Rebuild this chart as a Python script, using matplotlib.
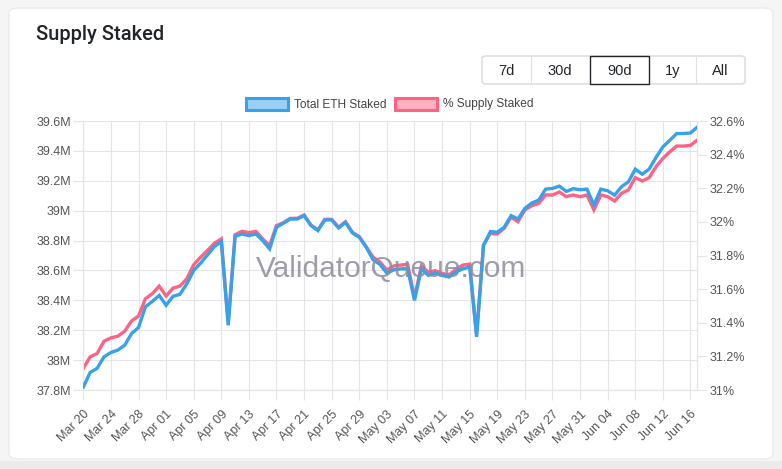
import numpy as np
import pandas as pd
import matplotlib
matplotlib.use('Agg')
from matplotlib import pyplot as plt
from matplotlib.patches import FancyBboxPatch, Rectangle

# data (daily, Mar 20 - Jun 17)
dates = pd.date_range('2024-03-20', periods=90, freq='D')
eth_staked_m = [
    37.82, 37.918, 37.945, 38.022, 38.051, 38.067, 38.10, 38.178, 38.218, 38.356,
    38.393, 38.433, 38.367, 38.427, 38.44, 38.511, 38.60, 38.649, 38.704, 38.76,
    38.793, 38.233, 38.829, 38.844, 38.833, 38.844, 38.80, 38.744, 38.889, 38.916,
    38.944, 38.944, 38.967, 38.90, 38.867, 38.938, 38.938, 38.884, 38.922, 38.851,
    38.822, 38.756, 38.671, 38.64, 38.582, 38.604, 38.611, 38.611, 38.40, 38.611,
    38.567, 38.582, 38.567, 38.556, 38.589, 38.611, 38.622, 38.156, 38.767, 38.86,
    38.856, 38.889, 38.967, 38.944, 39.015, 39.051, 39.071, 39.144, 39.149, 39.164,
    39.129, 39.147, 39.14, 39.144, 39.038, 39.144, 39.133, 39.104, 39.16, 39.193,
    39.278, 39.244, 39.278, 39.356, 39.427, 39.471, 39.516, 39.516, 39.52, 39.56,
]
pct_staked = [
    31.129, 31.198, 31.217, 31.29, 31.31, 31.32, 31.35, 31.411, 31.44, 31.543,
    31.573, 31.618, 31.559, 31.606, 31.618, 31.662, 31.745, 31.79, 31.83, 31.873,
    31.899, 31.40, 31.924, 31.944, 31.936, 31.944, 31.899, 31.859, 31.978, 31.995,
    32.021, 32.021, 32.041, 31.981, 31.952, 32.015, 32.015, 31.968, 32.001, 31.938,
    31.912, 31.852, 31.79, 31.761, 31.714, 31.738, 31.743, 31.748, 31.55, 31.738,
    31.70, 31.71, 31.694, 31.684, 31.718, 31.743, 31.749, 31.33, 31.862, 31.932,
    31.928, 31.962, 32.027, 32.001, 32.071, 32.096, 32.11, 32.16, 32.16, 32.178,
    32.15, 32.16, 32.15, 32.16, 32.071, 32.16, 32.15, 32.124, 32.17, 32.19,
    32.263, 32.243, 32.263, 32.328, 32.378, 32.417, 32.451, 32.451, 32.455, 32.487,
]
left_ticks = [37.8, 38.0, 38.2, 38.4, 38.6, 38.8, 39.0, 39.2, 39.4, 39.6]
right_ticks = [31.0, 31.2, 31.4, 31.6, 31.8, 32.0, 32.2, 32.4, 32.6]
range_buttons = ['7d', '30d', '90d', '1y', 'All']
legend_labels = ['Total ETH Staked', '% Supply Staked']

W, H = 782, 469
BLUE = '#36a2eb'
PINK = '#ff6384'
GRID = '#e5e5e5'
TICK_TXT = '#555555'

plt.rcParams['font.family'] = ['Liberation Sans', 'DejaVu Sans']


def fx(x):
    return x / W


def fy(y):
    return 1 - y / H


def fmt_num(v, suffix):
    s = ('%.1f' % v).rstrip('0').rstrip('.')
    return s + suffix


fig = plt.figure(figsize=(W / 100, H / 100), dpi=100, facecolor='#f5f5f5')

# card background (kept below the axes)
fig.add_artist(Rectangle((0, 0), 1, fy(461), transform=fig.transFigure,
                         facecolor='#ebebeb', edgecolor='none', zorder=-3))
fig.add_artist(FancyBboxPatch((fx(9), fy(459)), fx(773) - fx(9), fy(8) - fy(459),
                              boxstyle='round,pad=0,rounding_size=0.012',
                              transform=fig.transFigure, facecolor='white',
                              edgecolor='#e8e8e8', linewidth=0.8, zorder=-2))

fig.text(fx(36.5), fy(35), 'Supply Staked', fontsize=14.5, color='#212529',
         va='center', ha='left', family=['Roboto', 'Liberation Sans'], fontweight='medium')

# range buttons
fig.add_artist(FancyBboxPatch((fx(482), fy(84)), fx(745) - fx(482), fy(56) - fy(84),
                              boxstyle='round,pad=0,rounding_size=0.006',
                              transform=fig.transFigure, facecolor='white',
                              edgecolor='#dee2e6', linewidth=1.3, zorder=1))
edges = [482, 530.5, 589.5, 649, 695.5, 745]
for i, lab in enumerate(range_buttons):
    x0, x1 = edges[i], edges[i + 1]
    if i > 0 and lab != '90d' and range_buttons[i - 1] != '90d':
        fig.add_artist(plt.Line2D([fx(x0), fx(x0)], [fy(57), fy(83)], color='#dee2e6',
                                  linewidth=0.8, transform=fig.transFigure, zorder=2))
    if lab == '90d':
        fig.add_artist(Rectangle((fx(x0), fy(84)), fx(x1) - fx(x0), fy(56) - fy(84),
                                 transform=fig.transFigure, facecolor='white',
                                 edgecolor='#212529', linewidth=1.0, zorder=3))
    fig.text(fx((x0 + x1) / 2), fy(70.5), lab, fontsize=10.5, color='#212529',
             ha='center', va='center', zorder=4)

# legend
legend_items = [(245, 293.5, legend_labels[0], BLUE, (54 / 255, 162 / 255, 235 / 255, 0.5)),
                (394, 442.5, legend_labels[1], PINK, (255 / 255, 99 / 255, 132 / 255, 0.5))]
for bx, tx, lab, col, fill in legend_items:
    fig.add_artist(Rectangle((fx(bx + 1), fy(110.5)), fx(42), fy(98.5) - fy(110.5),
                             transform=fig.transFigure, facecolor=fill,
                             edgecolor=col, linewidth=2.2, zorder=2))
    fig.text(fx(tx), fy(104.5), lab, fontsize=8.6, color='#444444', ha='left', va='center')

# main chart
x = np.arange(len(dates))
ax = fig.add_axes([fx(83.3), fy(390), fx(697.4) - fx(83.3), fy(121) - fy(390)])
ax2 = ax.twinx()
ax2.set_zorder(1)
ax.set_zorder(2)
ax.patch.set_visible(False)
ax2.patch.set_visible(False)

ax.set_xlim(0, len(dates) - 1)
ax.set_ylim(left_ticks[0], left_ticks[-1])
ax2.set_ylim(right_ticks[0], right_ticks[-1])

ax.plot(x, pct_staked, color=PINK, linewidth=2.4, transform=ax2.transData,
        zorder=2, solid_joinstyle='miter')
ax.plot(x, eth_staked_m, color=BLUE, linewidth=2.4, zorder=3, solid_joinstyle='miter')

xt = x[::4]
ax.set_xticks(xt)
ax.set_xticklabels([d.strftime('%b %d') for d in dates[::4]], rotation=45,
                   ha='right', rotation_mode='anchor')
ax.set_yticks(left_ticks)
ax.set_yticklabels([fmt_num(v, 'M') for v in left_ticks])
ax2.set_yticks(right_ticks)
ax2.set_yticklabels([fmt_num(v, '%') for v in right_ticks])

ax.grid(True, color=GRID, linewidth=0.8)
ax.set_axisbelow(True)
for a in (ax, ax2):
    a.tick_params(length=7, width=0.8, color=GRID, labelcolor=TICK_TXT,
                  labelsize=9, pad=2)
    for s in a.spines.values():
        s.set_color(GRID)
        s.set_linewidth(0.8)
ax.tick_params(axis='x', pad=6)
ax.spines['top'].set_visible(False)
ax2.spines['top'].set_visible(False)

fig.text(fx(391), fy(269), 'ValidatorQueue.com', fontsize=21.5, color='#8c8c9c',
         alpha=0.85, ha='center', va='center', zorder=10)

fig.savefig('out.png', dpi=100, facecolor=fig.get_facecolor())
